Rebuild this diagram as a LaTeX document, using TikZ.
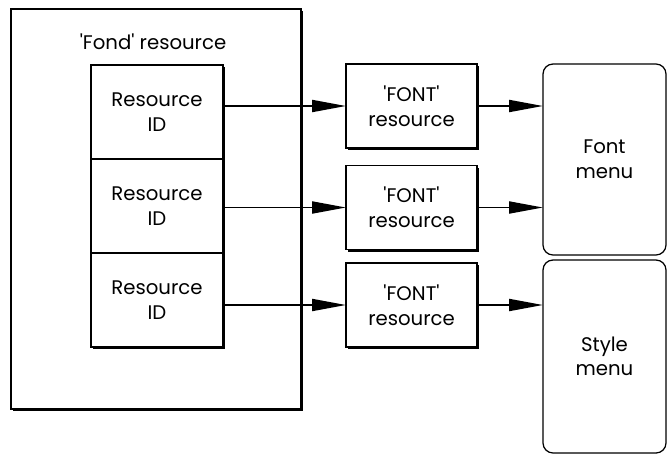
\documentclass[tikz,border=0pt]{standalone}
\usepackage{fontspec}
\setmainfont{Poppins}
\usetikzlibrary{positioning}
\usetikzlibrary{arrows.meta}
\usetikzlibrary{shadows}

\begin{document}
\begin{tikzpicture}[
        box/.style={draw, fill=white, line width=0.9pt, inner sep=0pt, outer sep=0pt, align=center,
            drop shadow={shadow xshift=0.06cm, shadow yshift=-0.06cm, fill=black, opacity=1}},
        idbox/.style={box, minimum width=3.3cm, minimum height=2.35cm},
        fontbox/.style={box, minimum width=3.275cm, minimum height=2.1cm},
        menubox/.style={draw, fill=white, rounded corners=0.25cm, line width=0.9pt, inner sep=0pt, outer sep=0pt, align=center, minimum width=3.075cm},
        arr/.style={-{Triangle[length=0.85cm, width=0.3cm]}, line width=1.4pt},
        font=\fontsize{14}{17.5}\selectfont]
        \useasboundingbox (0,0) rectangle (16.675,-11.425);

        \node[box, minimum width=7.25cm, minimum height=10cm, name=fond] at (3.9,-5.225) {};
        \node[name=fondlbl] at (3.825,-1.05) {\textquotesingle Fond\textquotesingle\ resource};

        \node[idbox, name=id1] at (3.925,-2.8) {Resource\\ID};
        \node[idbox, below=0pt of id1, name=id2] {Resource\\ID};
        \node[idbox, below=0pt of id2, name=id3] {Resource\\ID};

        \node[fontbox, name=fnt1] at (10.2875,-2.65) {\textquotesingle FONT\textquotesingle\\resource};
        \node[fontbox, name=fnt2] at (10.2875,-5.1875) {\textquotesingle FONT\textquotesingle\\resource};
        \node[fontbox, name=fnt3] at (10.2875,-7.625) {\textquotesingle FONT\textquotesingle\\resource};

        \node[menubox, minimum height=4.775cm, name=fontmenu] at (15.1125,-3.9875) {Font\\menu};
        \node[menubox, minimum height=4.825cm, name=stylemenu] at (15.1125,-8.9125) {Style\\menu};

        \draw[arr] (fnt1.west -| id1.east) -- (fnt1.west);
        \draw[arr] (fnt2.west -| id2.east) -- (fnt2.west);
        \draw[arr] (fnt3.west -| id3.east) -- (fnt3.west);

        \draw[arr] (fnt1.east) -- (fnt1.east -| fontmenu.west);
        \draw[arr] (fnt2.east) -- (fnt2.east -| fontmenu.west);
        \draw[arr] (fnt3.east) -- (fnt3.east -| stylemenu.west);
    \end{tikzpicture}
\end{document}
